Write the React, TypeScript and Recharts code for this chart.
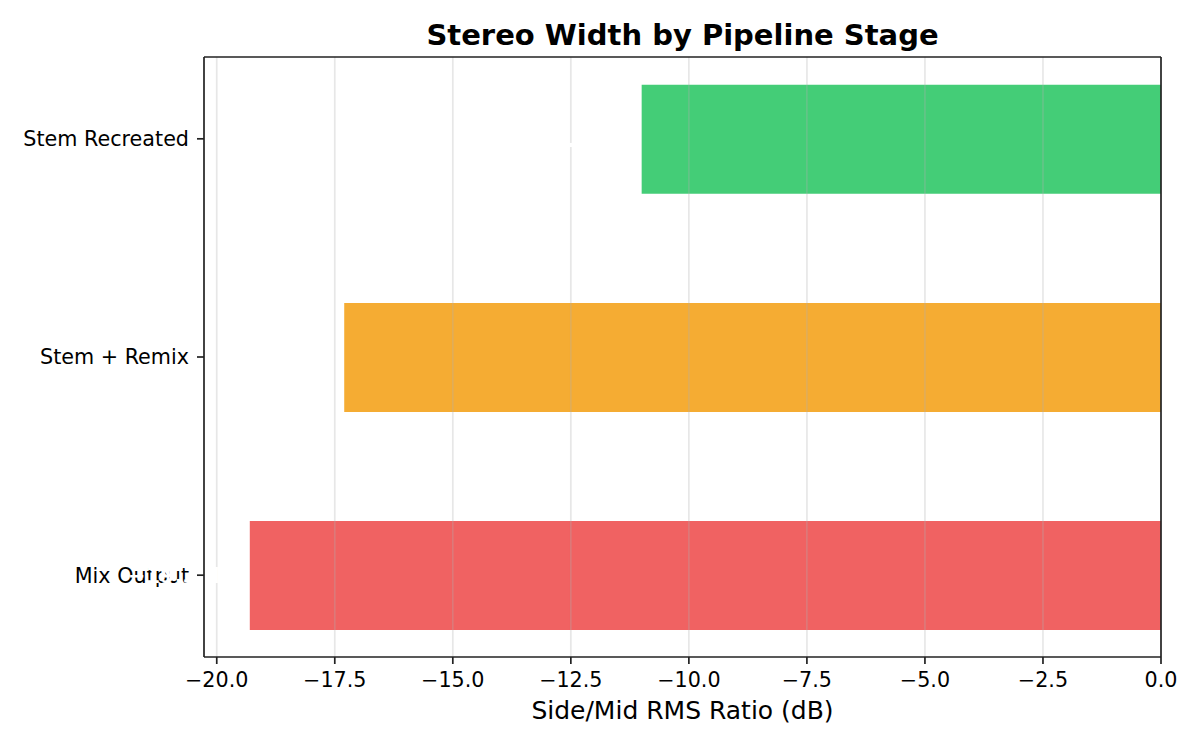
import { BarChart, Bar, XAxis, YAxis, Cell, ReferenceLine, LabelList } from 'recharts';

// stages bottom -> top (matplotlib barh order)
const stages = ['Mix Output', 'Stem + Remix', 'Stem Recreated'];
const widthDb = [-19.3, -17.3, -11.0];
const barColors = ['#f06262', '#f5ac33', '#44cd77'];
const xTicks = [-20, -17.5, -15, -12.5, -10, -7.5, -5, -2.5, 0];

const data = stages.map((name, i) => ({ name, pos: i, db: widthDb[i] }));

const FONT = 'DejaVu Sans, sans-serif';
const fmtX = (v: number) => (v < 0 ? '\u2212' : '') + Math.abs(v).toFixed(1);

function ValueLabel(props: any) {
  const { x, y, width, height, value } = props;
  if (x == null || value == null) return null;
  const left = Math.min(x, x + width);
  const cy = y + height / 2;
  return (
    <text
      x={left - 14}
      y={cy}
      dy="0.355em"
      textAnchor="end"
      fill="#ffffff"
      fontFamily={FONT}
      fontSize={21}
      fontWeight="bold"
    >
      {`${fmtX(Number(value))} dB`}
    </text>
  );
}

export default function App() {
  return (
    <div style={{ position: 'absolute', left: 0, top: 0, width: 1200, height: 750, background: '#fff', fontFamily: FONT }}>
      <div
        style={{
          position: 'absolute',
          left: 0,
          width: 1365,
          top: 21,
          textAlign: 'center',
          fontSize: 29,
          lineHeight: '29px',
          fontWeight: 'bold',
          whiteSpace: 'nowrap',
        }}
      >
        Stereo Width by Pipeline Stage
      </div>
      <BarChart
        width={1200}
        height={750}
        data={data}
        layout="vertical"
        margin={{ top: 57, right: 39, bottom: 23, left: 4 }}
      >
        <XAxis
          type="number"
          dataKey="db"
          domain={[-20.27, 0]}
          ticks={xTicks}
          allowDataOverflow
          tickFormatter={fmtX}
          height={70}
          tickSize={7}
          tickMargin={8}
          axisLine={{ stroke: '#222', strokeWidth: 1.7 }}
          tickLine={{ stroke: '#222', strokeWidth: 1.7 }}
          tick={{ fill: '#000', fontSize: 20.7, fontFamily: FONT }}
        />
        <YAxis
          type="number"
          dataKey="pos"
          domain={[-0.375, 2.375]}
          ticks={[0, 1, 2]}
          reversed
          allowDataOverflow
          tickFormatter={(v: number) => stages[v] ?? ''}
          width={200}
          tickSize={7}
          tickMargin={8}
          axisLine={{ stroke: '#222', strokeWidth: 1.7 }}
          tickLine={{ stroke: '#222', strokeWidth: 1.7 }}
          tick={{ fill: '#000', fontSize: 20.7, fontFamily: FONT }}
        />
        <Bar dataKey="db" barSize={109} isAnimationActive={false}>
          {data.map((d, i) => (
            <Cell key={d.name} fill={barColors[i]} />
          ))}
          <LabelList dataKey="db" content={ValueLabel} />
        </Bar>
        {xTicks.slice(0, -1).map((t) => (
          <ReferenceLine key={t} x={t} stroke="#b0b0b0" strokeOpacity={0.3} strokeWidth={1.7} />
        ))}
        <ReferenceLine x={0} stroke="#222" strokeWidth={1.7} />
        <ReferenceLine y={2.375} stroke="#222" strokeWidth={1.7} />
      </BarChart>
      <div
        style={{
          position: 'absolute',
          left: 204,
          width: 957,
          top: 698,
          textAlign: 'center',
          fontSize: 25,
          lineHeight: '25px',
          whiteSpace: 'nowrap',
        }}
      >
        Side/Mid RMS Ratio (dB)
      </div>
    </div>
  );
}
